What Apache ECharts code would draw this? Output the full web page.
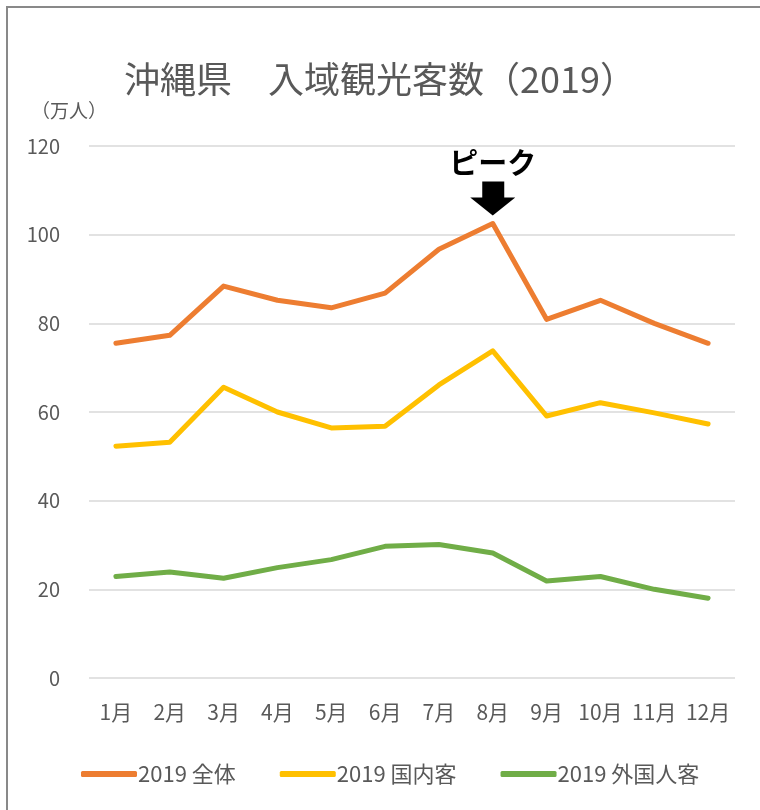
<!DOCTYPE html>
<html>
<head>
<meta charset="utf-8">
<script src="https://cdn.jsdelivr.net/npm/echarts@6/dist/echarts.min.js"></script>
<style>
  html, body { margin: 0; padding: 0; background: #fff; }
  .frame {
    position: absolute;
    left: 6px;
    top: 6px;
    width: 760px;
    height: 810px;
    border-left: 2px solid #898989;
    border-top: 2px solid #898989;
    box-sizing: border-box;
  }
  #chart { position: absolute; left: 0; top: 0; width: 760px; height: 810px; }
</style>
</head>
<body>
<div class="frame"></div>
<div id="chart"></div>
<script>
// カテゴリ（月）
const months = ['1月', '2月', '3月', '4月', '5月', '6月', '7月', '8月', '9月', '10月', '11月', '12月']
// 2019 全体（万人）
const total = [75.5, 77.3, 88.4, 85.2, 83.5, 86.8, 96.7, 102.5, 80.9, 85.2, 80.0, 75.5]
// 2019 国内客
const domestic = [52.3, 53.2, 65.6, 60.0, 56.4, 56.8, 66.1, 73.8, 59.1, 62.1, 59.8, 57.3]
// 2019 外国人客
const foreign = [22.9, 23.9, 22.5, 24.9, 26.7, 29.7, 30.1, 28.2, 21.9, 22.9, 20.0, 18.0]
// y軸
const yMin = 0
const yMax = 120
const yStep = 20
const peakMonth = '8月'

const font = 'Noto Sans CJK JP'
const textColor = '#595959'

const myChart = echarts.init(document.getElementById('chart'))
const peakIndex = months.indexOf(peakMonth)

const option = {
  animation: false,
  backgroundColor: 'transparent',
  textStyle: { fontFamily: font },
  title: {
    text: '沖縄県　入域観光客数（2019）',
    left: 'center',
    top: 56,
    textStyle: {
      fontFamily: font,
      fontSize: 36,
      fontWeight: 'normal',
      color: textColor
    }
  },
  legend: {
    bottom: 20,
    left: 76,
    itemWidth: 56,
    itemHeight: 6,
    itemGap: 44,
    icon: 'roundRect',
    textStyle: { fontFamily: font, fontSize: 22, color: textColor, padding: [0, 0, 0, -4] },
    data: ['2019 全体', '2019 国内客', '2019 外国人客']
  },
  grid: {
    top: 146,
    bottom: 132,
    left: 89,
    right: 25
  },
  xAxis: {
    type: 'category',
    data: months,
    boundaryGap: true,
    axisLine: { show: false },
    axisTick: { show: false },
    axisLabel: {
      interval: 0,
      margin: 24,
      fontFamily: font,
      fontSize: 21,
      color: textColor
    }
  },
  yAxis: {
    type: 'value',
    min: yMin,
    max: yMax,
    interval: yStep,
    name: '（万人）',
    nameLocation: 'end',
    nameGap: 26,
    nameTextStyle: {
      fontFamily: font,
      fontSize: 19,
      color: textColor,
      align: 'right',
      padding: [0, -18, 0, 0]
    },
    axisLine: { show: false },
    axisTick: { show: false },
    axisLabel: {
      margin: 29,
      fontFamily: font,
      fontSize: 20,
      color: textColor
    },
    splitLine: { lineStyle: { color: '#d9d9d9', width: 1.5 } }
  },
  series: [
    {
      name: '2019 全体',
      type: 'line',
      data: total,
      showSymbol: false,
      symbol: 'none',
      lineStyle: { width: 5, color: '#ED7D31', cap: 'round', join: 'round' },
      itemStyle: { color: '#ED7D31' },
      markPoint: {
        symbol: 'path://M12,0 L34,0 L34,16 L45,16 L22.5,34 L0,16 L12,16 Z',
        symbolSize: [45, 34],
        symbolOffset: [0, -25],
        itemStyle: { color: '#000' },
        label: {
          show: true,
          position: 'top',
          distance: 4,
          formatter: 'ピーク',
          fontFamily: font,
          fontSize: 29,
          fontWeight: 'bold',
          color: '#000'
        },
        data: [{ coord: [peakMonth, total[peakIndex]] }]
      }
    },
    {
      name: '2019 国内客',
      type: 'line',
      data: domestic,
      showSymbol: false,
      symbol: 'none',
      lineStyle: { width: 5, color: '#FFC000', cap: 'round', join: 'round' },
      itemStyle: { color: '#FFC000' }
    },
    {
      name: '2019 外国人客',
      type: 'line',
      data: foreign,
      showSymbol: false,
      symbol: 'none',
      lineStyle: { width: 5, color: '#70AD47', cap: 'round', join: 'round' },
      itemStyle: { color: '#70AD47' }
    }
  ]
}

myChart.setOption(option)
</script>
</body>
</html>
